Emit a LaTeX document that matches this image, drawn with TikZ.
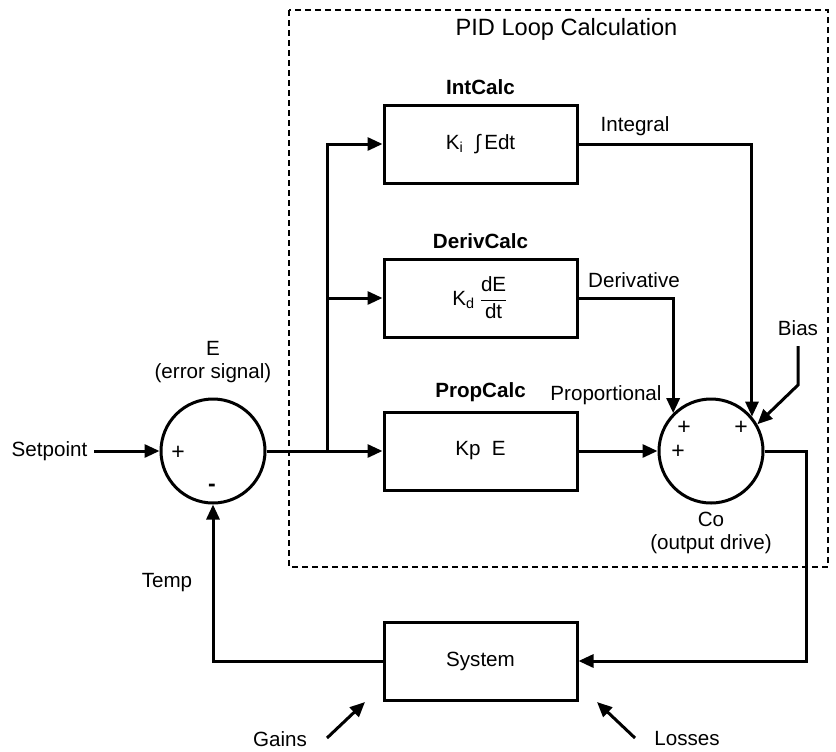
\documentclass[tikz,border=0pt]{standalone}
\usepackage{fontspec}
\setmainfont{Liberation Sans}
\usepackage{amsmath}
\usetikzlibrary{positioning,arrows.meta}

\begin{document}
\begin{tikzpicture}[x=0.5pt, y=-0.5pt,
    every node/.style={font=\fontsize{10.3}{11.5}\selectfont},
    blk/.style={draw, line width=1.5pt, minimum width=96.5pt, minimum height=39pt,
                inner sep=0pt},
    sumnode/.style={draw, circle, line width=1.5pt, minimum size=52pt, inner sep=0pt},
    arr/.style={-{Triangle[length=7.5pt, width=6.5pt]}, line width=1.5pt},
    blab/.style={font=\fontsize{10.3}{11.5}\selectfont\bfseries},
    sgn/.style={inner sep=0pt, font=\fontsize{11.5}{12}\selectfont}]
    \useasboundingbox (0,0) rectangle (836,751);

    % PID frame
    \draw[line width=1.2pt, dash pattern=on 3pt off 2pt] (289,10) rectangle (828,567);
    \node[font=\fontsize{11.8}{13}\selectfont] (title) at (566.5,29) {PID Loop Calculation};

    % blocks
    \node[blk] (int)  at (480.5,144) {K\textsubscript{i}\ \ ∫\,Edt};
    \node[blk] (der)  at (480.5,298) {K\textsubscript{d}\,$\dfrac{\text{dE}}{\text{dt}}$};
    \node[blk] (prop) at (480.5,451) {Kp\ \ E};
    \node[blk] (sys)  at (480.5,661) {System};
    \node[blab, above=1pt of int]  (intlab)  {IntCalc};
    \node[blab, above=1pt of der]  (derlab)  {DerivCalc};
    \node[blab, above=1pt of prop] (proplab) {PropCalc};

    % summing junctions
    \node[sumnode] (sum1) at (213,451) {};
    \node[sumnode] (sum2) at (711,451) {};
    \node[sgn] (p1) at (178,453) {+};
    \node[sgn] (m1) at (212,488) {\textbf{-}};
    \node[sgn] (p2) at (684,428) {+};
    \node[sgn] (p3) at (741,428) {+};
    \node[sgn] (p4) at (678,452) {+};

    % labels
    \node (setpt) at (49.5,451) {Setpoint};
    \node[align=center] (elab) at (213,362) {E\\(error signal)};
    \node[align=center] (colab) at (711,533) {Co\\(output drive)};
    \node (intout) at (635,126) {Integral};
    \node (derout) at (634,280) {Derivative};
    \node (propout) at (606,395) {Proportional};
    \node (bias) at (798,328) {Bias};
    \node (temp) at (167,583) {Temp};
    \node (gains) at (280,739) {Gains};
    \node (losses) at (687,739) {Losses};

    \coordinate (br) at (327,451);
    \coordinate (outc) at (806,451);
    \coordinate (biasbend) at (798,385);
    \coordinate (gfrom) at (327,738);
    \coordinate (gto) at (365,702);
    \coordinate (lfrom) at (635,738);
    \coordinate (lto) at (597,702);

    % connectors
    \draw[arr] (setpt) -- (sum1.west);
    \draw[arr] (sum1.east) -- (prop.west);
    \draw[arr] (br) |- (int.west);
    \draw[arr] (br |- der.west) -- (der.west);
    \draw[arr] (prop.east) -- (sum2.west);
    \draw[arr] (int.east) -| (sum2.40);
    \draw[arr] (der.east) -| (sum2.135);
    \draw[arr] ([yshift=-9pt]bias.center) -- (biasbend) -- (sum2.30);
    \draw[arr] (sum2.east) -- (outc) |- (sys.east);
    \draw[arr] (sys.west) -| (sum1.south);
    \draw[arr] (gfrom) -- (gto);
    \draw[arr] (lfrom) -- (lto);
\end{tikzpicture}
\end{document}
